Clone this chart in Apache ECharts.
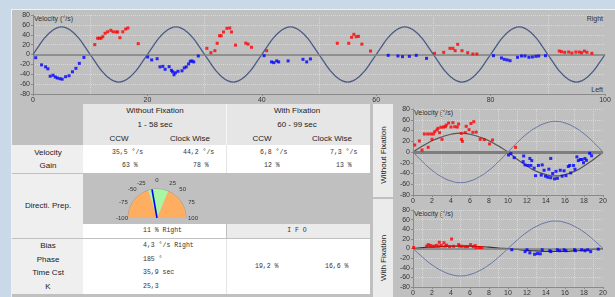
<!DOCTYPE html>
<html>
<head>
<meta charset="utf-8">
<script src="https://cdn.jsdelivr.net/npm/echarts@6/dist/echarts.min.js"></script>
<style>
html, body { margin: 0; padding: 0; width: 615px; height: 297px; overflow: hidden; background: #c9d9e8; font-family: "Liberation Sans", Arial, sans-serif; }
#panel { position: absolute; left: 11px; top: 9px; width: 604px; height: 288px; background: #c0c0c0; border-left: 1px solid #eef2f6; border-top: 1px solid #eef2f6; }
.b { position: absolute; }
.t { position: absolute; font-size: 8px; color: #222; white-space: nowrap; line-height: 10px; }
.c { transform: translate(-50%, -50%); }
.l { transform: translate(0, -50%); }
.r { transform: translate(-100%, -50%); }
.m { font-family: "Liberation Mono", "DejaVu Sans Mono", monospace; font-size: 6.5px; color: #333; }
.s { font-size: 7px; color: #333; }
#chart { position: absolute; left: 0; top: 0; width: 615px; height: 297px; }
</style>
</head>
<body>
<div id="panel"></div>
<div id="layer"></div>
<div id="chart"></div>
<script>
// ---- data ----
// stimulus sine (°/s) at x = 0..100 sec
const stimulusTop = [
  0, 17, 33, 45, 53, 56, 53, 45, 33, 17, 0, -17, -33, -45, -53, -56, -53, -45, -33, -17,
  0, 17, 33, 45, 53, 56, 53, 45, 33, 17, 0, -17, -33, -45, -53, -56, -53, -45, -33, -17,
  0, 17, 33, 45, 53, 56, 53, 45, 33, 17, 0, -17, -33, -45, -53, -56, -53, -45, -33, -17,
  0, 17, 33, 45, 53, 56, 53, 45, 33, 17, 0, -17, -33, -45, -53, -56, -53, -45, -33, -17,
  0, 17, 33, 45, 53, 56, 53, 45, 33, 17, 0, -17, -33, -45, -53, -56, -53, -45, -33, -17,
  0
]
const topRed = [
  [10.8, 20], [11.3, 33], [11.6, 33], [11.9, 33], [12.2, 36], [12.6, 43], [13.05, 46], [13.6, 49],
  [14.0, 46], [14.5, 45.6], [14.8, 45.6], [15.2, 34], [15.7, 46], [16.2, 51.6], [16.6, 53.7], [18.4, 22],
  [30.4, 12.5], [31.1, 3.6], [31.8, 7.7], [32.2, 22.7], [32.6, 38], [32.9, 38], [33.3, 45.6], [33.9, 53],
  [34.4, 53.7], [34.7, 45.6], [35.4, 19], [37.2, 23], [37.6, 21], [38.2, 14.6], [40.85, 7.7],
  [53.2, 22.7], [55.2, 22.7], [55.7, 34.8], [56.1, 40.8], [56.5, 36], [56.9, 36.8], [57.5, 21], [59.0, 7],
  [70.2, 2.4], [71.8, 4.4], [72.9, 12.5], [73.4, 12.5], [73.8, 7.7], [74.25, 20.6], [75.0, 7.7], [76.0, 3.6],
  [76.9, 1], [77.6, 1],
  [92.0, 7], [92.4, 5.7], [92.95, 4.4], [93.65, 5], [94.2, 3], [94.9, 5], [95.5, 5], [95.9, 3.6],
  [96.4, 7], [96.85, 4.4], [97.7, 2.4]
]
const topBlue = [
  [0.47, -6.5], [1.5, -21], [2.2, -25], [2.6, -29], [3.0, -44], [3.5, -42], [3.9, -45.6], [4.25, -47.6],
  [4.7, -49], [5.1, -50], [5.7, -45], [6.3, -43], [6.9, -35], [7.5, -28], [8.1, -18], [8.9, -6],
  [20.05, -5], [20.75, -11], [21.7, -8.5], [22.2, -25], [22.7, -24], [23.1, -30], [23.8, -24.7], [24.2, -32],
  [24.4, -35], [24.65, -41], [24.9, -37], [25.35, -34], [26.05, -33], [26.45, -27], [26.8, -25], [27.2, -19],
  [27.5, -13.8], [27.8, -13], [28.1, -15], [28.9, -3],
  [40.4, -2.4], [41.7, -15], [42.1, -16.5], [42.6, -13], [42.95, -15], [44.6, -13], [47.2, -9.8], [47.85, -15],
  [48.5, -9],
  [62.1, -1.7], [63.8, -3], [64.6, -4.4], [65.8, -3.7], [67.0, -1.7], [68.8, -7.8],
  [80.5, -2.4], [81.9, -7], [82.4, -9.8], [82.9, -11], [83.4, -12.5], [84.7, -5.7], [85.4, -3], [86.0, -3],
  [86.7, -5.7], [87.3, -5], [87.9, -3.7], [88.4, -3], [89.6, -2.4]
]

// averaged cycle, x = 0..20 sec
const stimulusCycle = [0, -18, -34, -46, -54, -57, -54, -46, -34, -18, 0, 18, 34, 46, 54, 57, 54, 46, 34, 18, 0]
const fitWithout = [0, 11, 21, 28, 33, 35, 33, 28, 21, 11, 0, -14, -26, -36, -42, -44.6, -42, -36, -26, -14, 0]
const fitWith = [0, 2, 3, 4, 5, 5, 5, 4, 3, 1, 0, -2, -4, -5, -6, -6, -6, -5, -4, -2, 0]
const withoutRed = [
  [0.18, 13], [0.67, 20.5], [0.95, 3.7], [1.19, 33.5], [1.54, 33.5], [1.6, 8.7], [1.86, 33.5], [2.0, 23.6],
  [2.14, 33.5], [2.28, 37.8], [2.52, 41], [2.63, 44], [2.8, 36], [2.94, 46], [3.05, 23.6], [3.2, 46.5],
  [3.4, 47], [3.5, 50], [3.75, 54], [4.0, 46.5], [4.2, 54.6], [4.4, 47], [4.66, 46.5], [4.8, 52],
  [5.08, 34.7], [5.1, 23.6], [5.2, 19.8], [5.5, 36], [5.6, 47.8], [5.9, 41.5], [6.1, 53], [6.4, 56.4],
  [6.3, 36.6], [6.65, 37], [7.07, 23.6], [7.5, 23], [8.06, 15], [8.37, 22.3], [10.8, 8.7]
]
const withoutBlue = [
  [10.05, -5.6], [10.3, -3], [10.65, -10.5], [11.6, -18], [11.65, -7.4], [11.8, -24], [12.1, -25], [12.3, -12],
  [12.4, -25], [12.5, -16], [12.75, -30], [12.9, -44], [13.2, -25], [13.5, -43], [13.6, -24], [13.8, -34],
  [13.95, -45], [14.2, -47], [14.3, -32], [14.5, -48], [14.5, -12], [14.7, -40], [14.9, -50], [15.05, -36],
  [15.2, -49], [15.5, -34], [15.7, -45], [15.9, -35], [16.1, -44], [16.35, -27], [16.5, -25], [16.6, -39],
  [16.9, -25], [17.05, -32], [17.25, -9], [17.4, -16], [17.6, -14], [17.8, -14], [17.95, -20], [18.1, -12],
  [18.25, -15.5], [18.6, -2.5], [18.8, -7]
]
const withRed = [
  [0.07, 2], [1.44, 5], [1.6, 8], [1.8, 6.5], [2.0, 5], [2.24, 4.5], [2.45, 6.5], [2.66, 5], [2.77, 13],
  [2.98, 6.5], [3.26, 12], [3.4, 5], [3.54, 7], [3.85, 4], [4.06, 19.7], [4.27, 4.6], [4.8, 8], [4.9, 5],
  [5.15, 4.6], [5.5, 4], [5.74, 4], [6.06, 8], [6.34, 4], [6.55, 6], [6.65, 2], [7.0, 2], [7.25, 2]
]
const withBlue = [
  [10.4, -2.6], [11.8, -6.5], [12.0, -2.6], [12.3, -9], [12.8, -12], [13.1, -10.5], [13.4, -11], [13.6, -2.6],
  [14.4, -4.6], [14.5, -6.5], [15.2, -2.6], [15.45, -4.6], [15.9, -2.6], [16.1, -4.6], [17.0, -2.6], [17.1, -4.6],
  [17.75, -2.6], [18.1, -4.6], [18.4, -2.6], [18.7, -6.5], [19.5, -1.3]
]

// directional preponderance gauge
const gaugeTicks = [-100, 100]
const gaugeGreen = [-20, 25]
const gaugeValue = -11

// table texts
const groupTitles = ['Without Fixation', 'With Fixation']
const groupRanges = ['1 -  58 sec', '60 -  99 sec']
const dirTitles = ['CCW', 'Clock Wise', 'CCW', 'Clock Wise']
const rowLabels = ['Velocity', 'Gain', 'Directi. Prep.', 'Bias', 'Phase', 'Time Cst', 'K']
const velocityVals = ['35,5 °/s', '44,2 °/s', '6,8 °/s', '7,3 °/s']
const gainVals = ['63 %', '78 %', '12 %', '13 %']
const dirPrepVal = '11 % Right'
const ifoTitle = 'I F O'
const paramVals = ['4,3 °/s Right', '185 °', '35,9 sec', '25,3']
const ifoVals = ['19,2 %', '16,6 %']

// ---- html table / backgrounds ----
const layer = document.getElementById('layer')
function box(x, y, w, h, bg) {
  const d = document.createElement('div')
  d.className = 'b'
  d.style.cssText = `left:${x}px;top:${y}px;width:${w}px;height:${h}px;background:${bg}`
  layer.appendChild(d)
}
function text(str, x, y, cls) {
  const d = document.createElement('div')
  d.className = 't ' + cls
  d.style.left = x + 'px'
  d.style.top = y + 'px'
  d.textContent = str
  layer.appendChild(d)
  return d
}

box(83, 104, 287, 41, '#e6e6e6')
box(226, 104, 1, 41, '#f6f6f6')
box(12, 145, 71, 28, '#efefef')
box(83, 145, 287, 28, '#ffffff')
box(226, 145, 1, 28, '#e4e4e4')
box(12, 174, 71, 64, '#efefef')
box(12, 239, 71, 55, '#efefef')
box(83, 224, 143, 14, '#ffffff')
box(227, 224, 143, 14, '#ebebeb')
box(83, 239, 287, 55, '#ffffff')
box(226, 239, 1, 55, '#e4e4e4')
box(373, 104, 20, 93, '#ebebeb')
box(373, 199, 20, 98, '#ebebeb')

text(groupTitles[0], 155, 111, 'c')
text(groupRanges[0], 155, 124.5, 'c')
text(groupTitles[1], 297, 111, 'c')
text(groupRanges[1], 297, 124.5, 'c')
;[119, 190, 262, 332].forEach((x, i) => text(dirTitles[i], x, 138.5, 'c'))
;[152.5, 166, 206, 246, 259.7, 273, 287].forEach((y, i) => text(rowLabels[i], 48, y, 'c'))
;[112, 183, 260, 330].forEach((x, i) => text(velocityVals[i], x, 152.5, 'l m'))
;[122, 193, 264, 336].forEach((x, i) => text(gainVals[i], x, 166, 'l m'))
text(dirPrepVal, 143, 231, 'l m')
text(ifoTitle, 297, 231, 'c m')
;[246, 259.7, 273, 287].forEach((y, i) => text(paramVals[i], 143, y, 'l m'))
text(ifoVals[0], 255, 266.5, 'l m')
text(ifoVals[1], 325, 266.5, 'l m')

text('Velocity (°/s)', 34, 19, 'l s')
text('Right', 603, 19, 'r s')
text('Left', 603, 90, 'r s')
text('Velocity (°/s)', 414, 113, 'l s')
text('Velocity (°/s)', 414, 214, 'l s')
const v1 = text('Without Fixation', 384, 155, 'c')
v1.style.transform = 'translate(-50%,-50%) rotate(-90deg)'
const v2 = text('With Fixation', 384, 258, 'c')
v2.style.transform = 'translate(-50%,-50%) rotate(-90deg)'

// ---- chart ----
const chart = echarts.init(document.getElementById('chart'), null, { renderer: 'canvas' })

const axisGray = '#8a8a8a'
const gridDot = { color: '#d9d9d9', type: 'dotted', width: 1 }
const lbl = { fontSize: 7, color: '#333', fontFamily: 'Liberation Sans' }

function xAxisOf(gridIndex, max, interval) {
  return {
    gridIndex, type: 'value', min: 0, max, interval,
    axisLine: { show: true, onZero: false, lineStyle: { color: axisGray } },
    axisTick: { show: true, length: 2, lineStyle: { color: axisGray } },
    axisLabel: Object.assign({ margin: 3 }, lbl),
    splitLine: { show: false },
    minorTick: { show: false, splitNumber: 2 },
    minorSplitLine: { show: true, lineStyle: gridDot }
  }
}
function yAxisOf(gridIndex) {
  return {
    gridIndex, type: 'value', min: -80, max: 80, interval: 20,
    axisLine: { show: true, onZero: false, lineStyle: { color: axisGray } },
    axisTick: { show: true, length: 2, lineStyle: { color: axisGray } },
    axisLabel: Object.assign({ margin: 3 }, lbl),
    splitLine: { show: true, lineStyle: gridDot }
  }
}
const zeroLine = (w) => ({
  silent: true, symbol: 'none', label: { show: false },
  lineStyle: { color: '#7e7e7e', width: w, type: 'solid' },
  data: [{ yAxis: 0 }]
})
const dots = (data, color, xi) => ({
  type: 'scatter', xAxisIndex: xi, yAxisIndex: xi, data,
  symbol: 'rect', symbolSize: 3, itemStyle: { color }, z: 5
})
const idx = (arr) => arr.map((v, i) => [i, v])

const option = {
  animation: false,
  grid: [
    { left: 33, top: 15, width: 572, height: 79 },
    { left: 413, top: 109, width: 190, height: 86 },
    { left: 413, top: 210, width: 190, height: 82 }
  ],
  xAxis: [xAxisOf(0, 100, 20), xAxisOf(1, 20, 2), xAxisOf(2, 20, 2)],
  yAxis: [yAxisOf(0), yAxisOf(1), yAxisOf(2)],
  series: [
    {
      type: 'line', xAxisIndex: 0, yAxisIndex: 0, data: idx(stimulusTop), smooth: true,
      showSymbol: false, lineStyle: { color: '#4b5b86', width: 1.3 }, markLine: zeroLine(1.5)
    },
    dots(topRed, '#ff0000', 0),
    dots(topBlue, '#0000ff', 0),
    {
      type: 'line', xAxisIndex: 1, yAxisIndex: 1, data: idx(stimulusCycle), smooth: true,
      showSymbol: false, lineStyle: { color: '#6676a6', width: 1 }, markLine: zeroLine(3)
    },
    {
      type: 'line', xAxisIndex: 1, yAxisIndex: 1, data: idx(fitWithout), smooth: true,
      showSymbol: false, lineStyle: { color: '#555555', width: 1.2 }
    },
    dots(withoutRed, '#ff0000', 1),
    dots(withoutBlue, '#0000ff', 1),
    {
      type: 'line', xAxisIndex: 2, yAxisIndex: 2, data: idx(stimulusCycle), smooth: true,
      showSymbol: false, lineStyle: { color: '#6676a6', width: 1 }, markLine: zeroLine(1.5)
    },
    {
      type: 'line', xAxisIndex: 2, yAxisIndex: 2, data: idx(fitWith), smooth: true,
      showSymbol: false, lineStyle: { color: '#333333', width: 1.2 }
    },
    dots(withRed, '#ff0000', 2),
    dots(withBlue, '#0000ff', 2),
    {
      type: 'gauge', center: [157, 218], radius: 29,
      startAngle: 180, endAngle: 0, min: gaugeTicks[0], max: gaugeTicks[1], splitNumber: 8,
      axisLine: {
        lineStyle: {
          width: 29,
          color: [
            [(gaugeGreen[0] - gaugeTicks[0]) / (gaugeTicks[1] - gaugeTicks[0]), '#ffad60'],
            [(gaugeGreen[1] - gaugeTicks[0]) / (gaugeTicks[1] - gaugeTicks[0]), '#a8f5a4'],
            [1, '#ffad60']
          ]
        }
      },
      axisTick: { show: false },
      splitLine: { show: false, length: 0, distance: 0 },
      axisLabel: { distance: -12, fontSize: 6, color: '#333', align: 'center', fontFamily: 'Liberation Sans' },
      pointer: { show: true, icon: 'rect', length: '100%', width: 1.6, itemStyle: { color: '#0000ff' } },
      anchor: { show: false },
      progress: { show: false },
      title: { show: false },
      detail: { show: false },
      data: [{ value: gaugeValue }],
      z: 3
    },
    {
      type: 'gauge', center: [157, 218], radius: 29.5,
      startAngle: 180, endAngle: 0,
      axisLine: { lineStyle: { width: 1, color: [[1, '#9a9a9a']] } },
      axisTick: { show: false }, splitLine: { show: false }, axisLabel: { show: false },
      pointer: { show: false }, anchor: { show: false }, title: { show: false }, detail: { show: false },
      data: [{ value: 0 }], z: 2
    }
  ]
}
chart.setOption(option)
</script>
</body>
</html>
